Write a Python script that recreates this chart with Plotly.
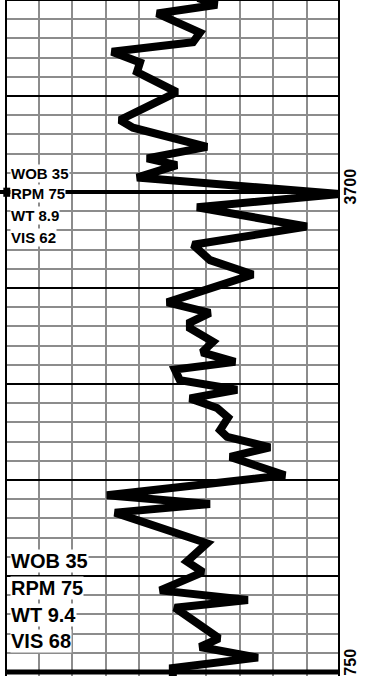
import plotly.graph_objects as go

# Drilling log track: curve value (0-10 track scale) against depth (ft)
curve_value = [5.76, 6.33, 4.54, 5.82, 5.61, 3.19, 4.03, 3.94, 5.13, 3.43,
               3.82, 6.03, 4.24, 5.13, 3.94, 10.0, 5.73, 9.01, 5.61, 6.12,
               7.40, 4.84, 6.12, 5.52, 5.52, 6.21, 5.88, 6.87, 5.07, 5.22,
               6.93, 5.52, 6.33, 6.66, 6.42, 6.63, 7.91, 6.72, 8.36, 3.04,
               6.12, 3.28, 6.03, 5.43, 5.91, 4.63, 7.25, 5.07, 6.39, 5.82,
               7.55, 5.01, 5.01]
curve_depth = [3679.8, 3680.5, 3681.4, 3683.4, 3684.4, 3685.4, 3686.5, 3687.5, 3689.6, 3692.5,
               3693.3, 3695.3, 3696.5, 3697.2, 3698.5, 3700.2, 3701.6, 3703.6, 3705.5, 3707.1,
               3708.6, 3711.5, 3712.6, 3713.6, 3714.2, 3715.6, 3716.7, 3717.7, 3718.5, 3719.6,
               3720.6, 3721.5, 3722.5, 3723.5, 3724.8, 3725.5, 3726.6, 3727.6, 3729.5, 3731.6,
               3732.5, 3733.4, 3736.6, 3738.5, 3739.6, 3741.5, 3742.5, 3743.3, 3746.5, 3747.4,
               3748.5, 3749.6, 3750.8]

# Mud / drilling parameter notes
params_upper = ["WOB 35", "RPM 75", "WT 8.9", "VIS 62"]
params_upper_depth = [3698.1, 3700.2, 3702.5, 3704.7]
params_lower = ["WOB 35", "RPM 75", "WT 9.4", "VIS 68"]
params_lower_depth = [3738.4, 3741.25, 3744.1, 3746.8]

depth_labels = [3700, 3750]

top_depth = 3680
bottom_depth = 3750.42
marker_depth = 3700

fig = go.Figure()
fig.add_trace(go.Scatter(
    x=curve_value, y=curve_depth, mode="lines",
    line=dict(color="black", width=8), hoverinfo="skip", showlegend=False,
))

sans = "Liberation Sans, Arial, sans-serif"
annotations = []
for txt, d in zip(params_upper, params_upper_depth):
    annotations.append(dict(x=0.15, y=d, xref="x", yref="y", text="<b>%s</b>" % txt,
                            showarrow=False, xanchor="left", yanchor="middle",
                            bgcolor="white", borderpad=0,
                            font=dict(family=sans, size=15, color="black")))
for txt, d in zip(params_lower, params_lower_depth):
    annotations.append(dict(x=0.15, y=d, xref="x", yref="y", text="<b>%s</b>" % txt,
                            showarrow=False, xanchor="left", yanchor="middle",
                            bgcolor="white", borderpad=0,
                            font=dict(family=sans, size=20, color="black")))
for d in depth_labels:
    annotations.append(dict(x=1.03, y=d - 0.57, xref="paper", yref="y",
                            text="<b>%d</b>" % d, showarrow=False, textangle=-90,
                            xanchor="center", yanchor="middle",
                            font=dict(family=sans, size=16, color="black")))

shapes = [
    # track frame
    dict(type="line", xref="x", yref="y", x0=0, x1=0, y0=top_depth, y1=bottom_depth,
         line=dict(color="black", width=4)),
    dict(type="line", xref="x", yref="y", x0=10, x1=10, y0=top_depth, y1=bottom_depth,
         line=dict(color="black", width=4)),
    dict(type="line", xref="x", yref="y", x0=0, x1=10, y0=top_depth, y1=top_depth,
         line=dict(color="black", width=2)),
    dict(type="line", xref="x", yref="y", x0=0, x1=10, y0=3750, y1=3750,
         line=dict(color="black", width=5)),
    # heavy depth marker line
    dict(type="line", xref="paper", yref="y", x0=-0.015, x1=1, y0=marker_depth, y1=marker_depth,
         line=dict(color="black", width=4)),
    dict(type="rect", xref="paper", yref="y", x0=-0.005, x1=0.016,
         y0=marker_depth - 0.45, y1=marker_depth + 0.5,
         line=dict(width=0), fillcolor="black"),
]

fig.update_layout(
    width=369, height=676,
    margin=dict(l=5, r=29, t=0, b=0),
    paper_bgcolor="white", plot_bgcolor="white",
    showlegend=False,
    annotations=annotations,
    shapes=shapes,
    xaxis=dict(range=[0, 10], dtick=1, showgrid=True, gridcolor="#8c8c8c", gridwidth=2,
               showticklabels=False, ticks="", zeroline=False, showline=False,
               fixedrange=True),
    yaxis=dict(range=[bottom_depth, top_depth], dtick=10, tick0=3680, showgrid=True,
               gridcolor="black", gridwidth=1.5, showticklabels=False, ticks="",
               zeroline=False, showline=False, fixedrange=True,
               minor=dict(dtick=2, tick0=3680, showgrid=True, gridcolor="#8c8c8c",
                          gridwidth=2)),
)

fig.write_html("out.html", config={"displayModeBar": False})
